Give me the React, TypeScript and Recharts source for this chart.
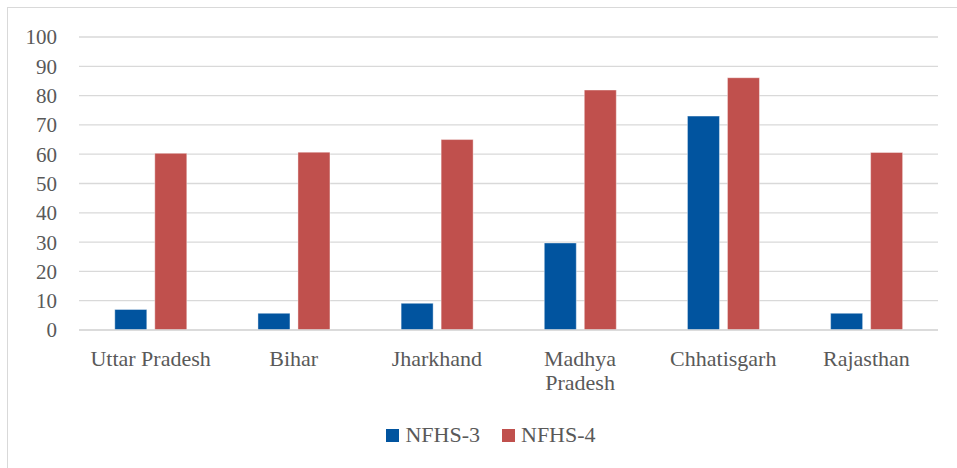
import React from "react";
import { BarChart, Bar, XAxis, YAxis, CartesianGrid } from "recharts";

const categories = ["Uttar Pradesh", "Bihar", "Jharkhand", "Madhya Pradesh", "Chhatisgarh", "Rajasthan"];
const nfhs3 = [7.0, 5.7, 9.1, 29.7, 73.0, 5.7];
const nfhs4 = [60.3, 60.7, 65.0, 81.9, 86.1, 60.6];
const yTicks = [0, 10, 20, 30, 40, 50, 60, 70, 80, 90, 100];
const seriesNames = ["NFHS-3", "NFHS-4"];
const seriesColors = ["#01549F", "#C0504D"];

const data = categories.map((c, i) => ({ name: c, s3: nfhs3[i], s4: nfhs4[i] }));

const FONT = "'Liberation Serif', 'Times New Roman', Tinos, 'DejaVu Serif', 'Noto Serif', serif";
const TEXT = "#595959";
const X_FONT_SIZE = 22;
const MAX_LABEL_W = 132;

let ctx: CanvasRenderingContext2D | null = null;
function measure(s: string): number {
  if (!ctx && typeof document !== "undefined") {
    ctx = document.createElement("canvas").getContext("2d");
  }
  if (!ctx) return s.length * X_FONT_SIZE * 0.5;
  ctx.font = `${X_FONT_SIZE}px ${FONT}`;
  return ctx.measureText(s).width;
}

function wrap(label: string): string[] {
  const words = label.split(" ");
  const lines: string[] = [];
  let cur = "";
  for (const w of words) {
    const t = cur ? cur + " " + w : w;
    if (cur && measure(t) > MAX_LABEL_W) {
      lines.push(cur);
      cur = w;
    } else cur = t;
  }
  if (cur) lines.push(cur);
  return lines;
}

const XTick = (props: any) => {
  const { x, y, payload } = props;
  const lines = wrap(String(payload.value));
  return (
    <text x={x} y={y} textAnchor="middle" fontFamily={FONT} fontSize={X_FONT_SIZE} fill={TEXT}>
      {lines.map((l, i) => (
        <tspan key={i} x={x} dy={i === 0 ? 16 : 24}>
          {l}
        </tspan>
      ))}
    </text>
  );
};

export default function App() {
  return (
    <div style={{ position: "absolute", left: 0, top: 0, width: 957, height: 468, overflow: "hidden", background: "#fff" }}>
      <div style={{ position: "absolute", left: 7, top: 7, width: 1000, height: 1000, border: "1.5px solid #d9d9d9", boxSizing: "border-box" }} />
      <div style={{ position: "absolute", left: 0, top: 0 }}>
        <BarChart
          width={957}
          height={468}
          data={data}
          margin={{ top: 37, right: 19, left: 19, bottom: 78 }}
          barCategoryGap="25%"
          barGap={8}
        >
          <CartesianGrid vertical={false} stroke="#d9d9d9" strokeWidth={1.3} />
          <XAxis
            dataKey="name"
            height={60}
            tickLine={false}
            axisLine={{ stroke: "#d9d9d9", strokeWidth: 1.3 }}
            tickSize={0}
            tickMargin={20}
            interval={0}
            tick={<XTick />}
          />
          <YAxis
            width={60}
            domain={[0, 100]}
            ticks={yTicks}
            interval={0}
            tickLine={false}
            axisLine={false}
            tickSize={0}
            tickMargin={22}
            tick={{ fontFamily: FONT, fontSize: 21, fill: TEXT }}
          />
          <Bar dataKey="s3" name={seriesNames[0]} fill={seriesColors[0]} stroke="#ffffff" strokeOpacity={0.4} strokeWidth={1} isAnimationActive={false} />
          <Bar dataKey="s4" name={seriesNames[1]} fill={seriesColors[1]} stroke="#ffffff" strokeOpacity={0.4} strokeWidth={1} isAnimationActive={false} />
        </BarChart>
      </div>
      <div
        style={{
          position: "absolute",
          left: 0,
          top: 424,
          width: 982,
          display: "flex",
          justifyContent: "center",
          fontFamily: FONT,
          fontSize: 22,
          color: TEXT,
          lineHeight: "22px",
        }}
      >
        {seriesNames.map((n, i) => (
          <div key={n} style={{ display: "flex", alignItems: "center", marginRight: i === 0 ? 22 : 0 }}>
            <div style={{ width: 13, height: 13, background: seriesColors[i], marginRight: 6, marginTop: 1 }} />
            <span>{n}</span>
          </div>
        ))}
      </div>
    </div>
  );
}
